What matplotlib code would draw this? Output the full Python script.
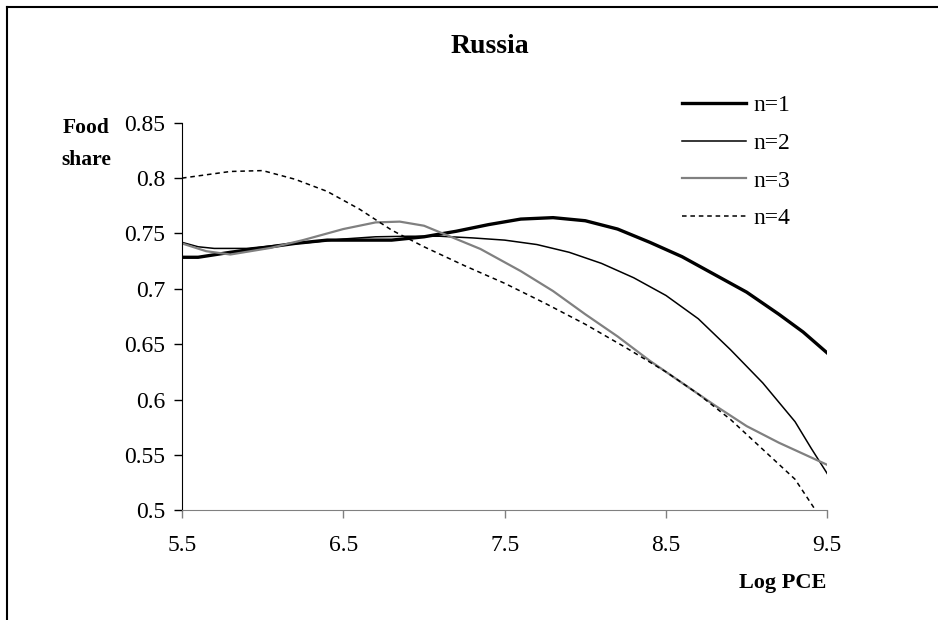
import matplotlib
matplotlib.use("Agg")
import matplotlib.pyplot as plt
from matplotlib.lines import Line2D

plt.rcParams["font.family"] = ["Liberation Serif", "DejaVu Serif"]

# food share curves by household size
x_n1 = [5.5, 5.6, 5.8, 6.0, 6.2, 6.4, 6.6, 6.8, 7.0, 7.2, 7.4, 7.6, 7.8, 8.0,
        8.2, 8.4, 8.6, 8.8, 9.0, 9.2, 9.35, 9.5]
y_n1 = [0.7285, 0.7285, 0.733, 0.737, 0.741, 0.744, 0.744, 0.744, 0.747, 0.752,
        0.758, 0.763, 0.7643, 0.7615, 0.754, 0.742, 0.729, 0.713, 0.697, 0.677,
        0.661, 0.642]

x_n2 = [5.5, 5.6, 5.7, 5.9, 6.1, 6.3, 6.5, 6.7, 6.9, 7.1, 7.3, 7.5, 7.7, 7.9,
        8.1, 8.3, 8.5, 8.7, 8.9, 9.1, 9.3, 9.4, 9.5]
y_n2 = [0.742, 0.738, 0.7365, 0.7365, 0.7395, 0.742, 0.745, 0.747, 0.7475,
        0.7475, 0.746, 0.744, 0.740, 0.733, 0.723, 0.710, 0.694, 0.673, 0.645,
        0.615, 0.58, 0.556, 0.533]

x_n3 = [5.5, 5.65, 5.8, 6.05, 6.25, 6.5, 6.7, 6.85, 7.0, 7.15, 7.35, 7.6, 7.8,
        8.0, 8.2, 8.4, 8.6, 8.8, 9.0, 9.2, 9.35, 9.5]
y_n3 = [0.741, 0.734, 0.731, 0.737, 0.744, 0.754, 0.760, 0.7607, 0.757, 0.748,
        0.736, 0.716, 0.698, 0.677, 0.657, 0.635, 0.615, 0.595, 0.576, 0.561,
        0.551, 0.541]

x_n4 = [5.5, 5.65, 5.8, 6.0, 6.2, 6.4, 6.6, 6.8, 7.0, 7.25, 7.5, 7.75, 8.0,
        8.25, 8.5, 8.7, 8.9, 9.1, 9.3, 9.45]
y_n4 = [0.800, 0.803, 0.806, 0.8068, 0.799, 0.788, 0.772, 0.753, 0.738, 0.721,
        0.705, 0.687, 0.668, 0.647, 0.625, 0.605, 0.582, 0.555, 0.528, 0.495]

series = [
    ("n=1", x_n1, y_n1, dict(color="black", lw=2.4)),
    ("n=2", x_n2, y_n2, dict(color="black", lw=1.1)),
    ("n=3", x_n3, y_n3, dict(color="#808080", lw=1.6)),
    ("n=4", x_n4, y_n4, dict(color="black", lw=1.1, linestyle=(0, (3, 2.5)))),
]

x_ticks = [5.5, 6.5, 7.5, 8.5, 9.5]
y_ticks = [0.5, 0.55, 0.6, 0.65, 0.7, 0.75, 0.8, 0.85]
y_labels = ["0.5", "0.55", "0.6", "0.65", "0.7", "0.75", "0.8", "0.85"]

fig = plt.figure(figsize=(9.38, 6.2), dpi=100)
ax = fig.add_axes([0.194, 0.177, 0.688, 0.625])

for name, xs, ys, style in series:
    ax.plot(xs, ys, label=name, **style)

ax.set_xlim(5.5, 9.5)
ax.set_ylim(0.5, 0.85)
ax.set_xticks(x_ticks)
ax.set_xticklabels([str(t) for t in x_ticks])
ax.set_yticks(y_ticks)
ax.set_yticklabels(y_labels)
ax.tick_params(axis="both", labelsize=17, length=6, width=1, direction="out")
ax.tick_params(axis="x", color="#808080", pad=12)
ax.tick_params(axis="y", pad=6)

for side in ("top", "right"):
    ax.spines[side].set_visible(False)
ax.spines["bottom"].set_color("#808080")
ax.spines["left"].set_color("black")

fig.text(0.522, 0.925, "Russia", ha="center", va="center", fontsize=20,
         fontweight="bold")
fig.text(0.092, 0.768, "Food\nshare", ha="center", va="center", fontsize=15.5,
         fontweight="bold", linespacing=1.8)
fig.text(0.834, 0.06, "Log PCE", ha="center", va="center", fontsize=16,
         fontweight="bold")

ax.legend(loc="upper left", bbox_to_anchor=(0.714, 0.866),
          bbox_transform=fig.transFigure, frameon=False, fontsize=17,
          handlelength=2.75, handletextpad=0.3, labelspacing=0.68,
          borderpad=0)

# outer chart frame, cropped at right and bottom in the reference
fig.add_artist(Line2D([7 / 938, 7 / 938], [0, 1 - 7 / 620], color="black",
                      lw=1.5, transform=fig.transFigure))
fig.add_artist(Line2D([7 / 938, 1], [1 - 7 / 620, 1 - 7 / 620], color="black",
                      lw=1.5, transform=fig.transFigure))

fig.savefig("out.png", dpi=100)
